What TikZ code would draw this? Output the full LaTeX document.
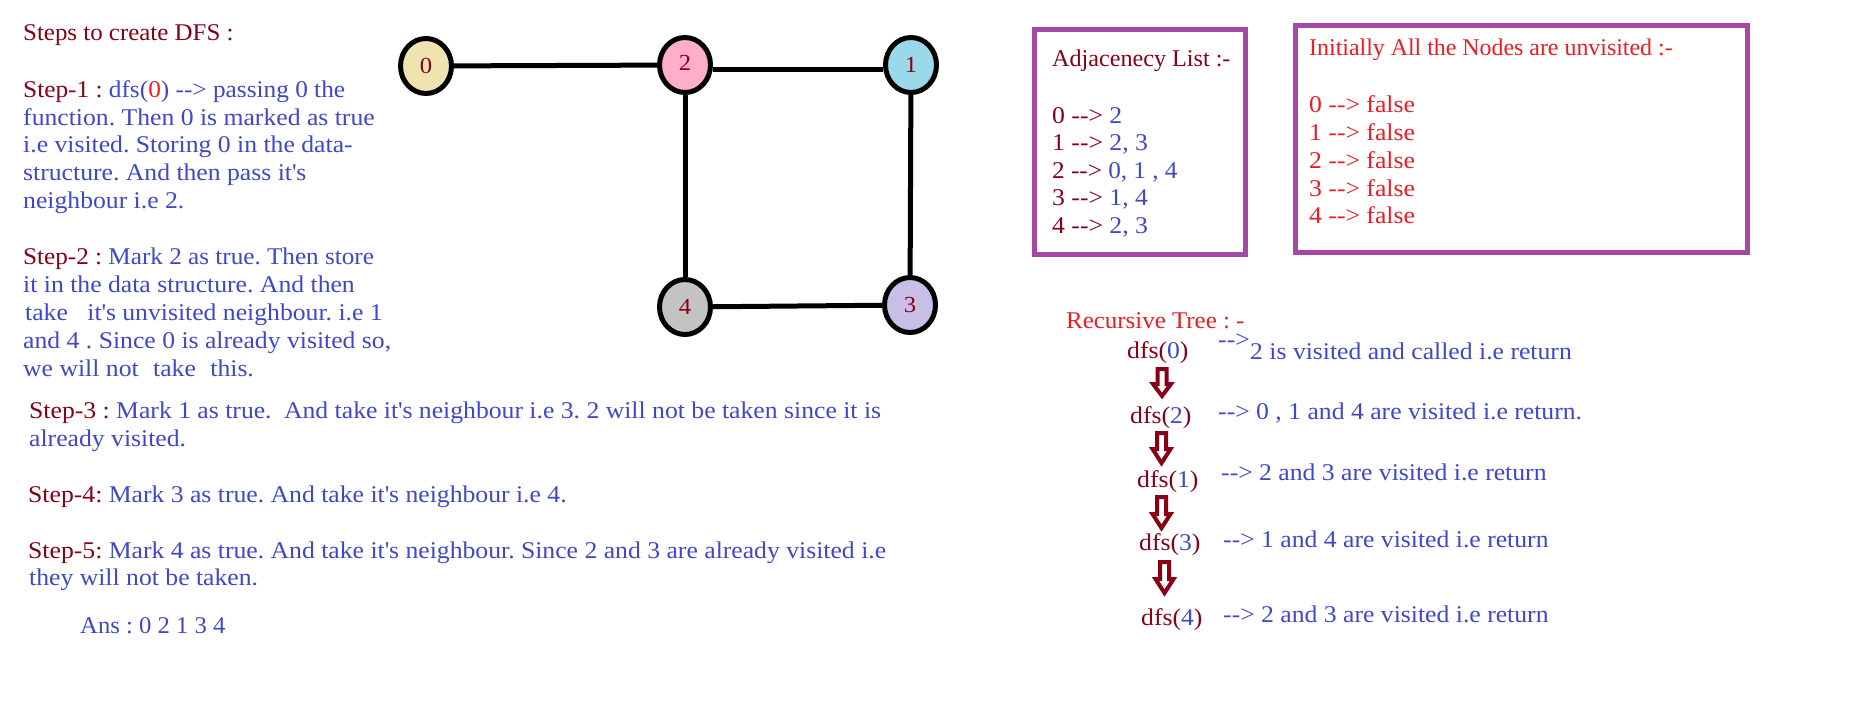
\documentclass[tikz,border=0pt]{standalone}
\usepackage{fontspec}
\usepackage{graphicx}
\setmainfont{Liberation Serif}[FakeStretch=1.07]
\usetikzlibrary{shapes.geometric}
\definecolor{dred}{HTML}{880015}
\definecolor{blu}{HTML}{3F48CC}
\definecolor{rd}{HTML}{ED1C24}
\definecolor{purp}{HTML}{A349A4}
\definecolor{fzero}{HTML}{EFE4B0}
\definecolor{fone}{HTML}{99D9EA}
\definecolor{ftwo}{HTML}{FFAEC9}
\definecolor{fthree}{HTML}{C8BFE7}
\definecolor{ffour}{HTML}{C3C3C3}
\newcommand\dr[1]{\textcolor{dred}{#1}}
\newcommand\ap{\textquotesingle}
\newcommand\arr{-{}->}
\newcommand\sx[2]{\scalebox{#1}[1]{#2}}
\newcommand\barrow[4]{\draw[barrow] (#1-4.5,#2) -- (#1+4.5,#2) -- (#1+4.5,#3) -- (#1+9,#3) -- (#1,#4) -- (#1-9,#3) -- (#1-4.5,#3) -- cycle;}
\frenchspacing
\begin{document}
\begin{tikzpicture}[x=1pt,y=-1pt,
  txt/.style={anchor=base west, inner sep=0pt, text=blu, font=\fontsize{24}{28}\selectfont},
  gnode/.style={ellipse, draw=black, line width=5pt, minimum width=51pt, minimum height=55pt, inner sep=0pt, text=dred, font=\fontsize{23}{26}\selectfont},
  gline/.style={line width=5pt, draw=black},
  listbox/.style={draw=purp, line width=5pt},
  barrow/.style={draw=dred, line width=4pt, fill=white, line join=miter}]
\useasboundingbox (0,0) rectangle (1870,720);
\fill[white] (0,0) rectangle (1870,720);

% graph
\node[gnode, fill=fzero] (n0) at (426,66) {0};
\node[gnode, fill=ftwo] (n2) at (685,65) {\raisebox{4pt}{2}};
\node[gnode, fill=fone] (n1) at (911,65) {1};
\node[gnode, fill=ffour] (n4) at (685,307) {\raisebox{-3pt}{4}};
\node[gnode, fill=fthree] (n3) at (910,305) {3};
\draw[gline] (n0) -- (n2);
\draw[gline] ([yshift=-4pt]n2.east) -- ([yshift=-4pt]n1.west);
\draw[gline] (n2) -- (n4);
\draw[gline] (n1) -- (n3);
\draw[gline] (n4) -- (n3);

% left text
\node[txt, text=dred] (title) at (23,40) {\sx{0.97}{Steps to create DFS :}};
\node[txt] (s1a) at (23,97) {\sx{0.985}{\dr{Step-1 :} dfs(\textcolor{rd}{0}) \arr{} passing 0 the}};
\node[txt] (s1b) at (23,125) {function. Then 0 is marked as true};
\node[txt] (s1c) at (23,152) {i.e visited. Storing 0 in the data-};
\node[txt] (s1d) at (23,180) {structure. And then pass it\ap s};
\node[txt] (s1e) at (23,208) {neighbour i.e 2.};
\node[txt] (s2a) at (23,264) {\sx{0.98}{\dr{Step-2 :} Mark 2 as true. Then store}};
\node[txt] (s2b) at (23,292) {it in the data structure. And then};
\node[txt] (s2c) at (25,320) {take\hspace{13pt} it\ap s unvisited neighbour. i.e 1};
\node[txt] (s2d) at (23,348) {and 4 . Since 0 is already visited so,};
\node[txt] (s2e) at (23,376) {we will not\hspace{8pt} take\hspace{8pt} this.};
\node[txt] (s3a) at (29,418) {\dr{Step-3 :} Mark 1 as true.\hspace{6pt} And take it\ap s neighbour i.e 3. 2 will not be taken since it is};
\node[txt] (s3b) at (29,446) {already visited.};
\node[txt] (s4) at (28,502) {\dr{Step-4:} Mark 3 as true. And take it\ap s neighbour i.e 4.};
\node[txt] (s5a) at (28,558) {\dr{Step-5:} Mark 4 as true. And take it\ap s neighbour. Since 2 and 3 are already visited i.e};
\node[txt] (s5b) at (29,585) {they will not be taken.};
\node[txt] (ans) at (80,633) {\sx{0.96}{Ans : 0 2 1 3 4}};

% adjacency list
\draw[listbox] (1034.5,29.5) rectangle (1245.5,254.5);
\node[txt, text=dred] (adjh) at (1052,66) {\sx{0.94}{Adjacenecy List :-}};
\node[txt] (a0) at (1052,123) {\dr{0 \arr} 2};
\node[txt] (a1) at (1052,150) {\dr{1 \arr} 2, 3};
\node[txt] (a2) at (1052,178) {\sx{0.98}{\dr{2 \arr} 0, 1 , 4}};
\node[txt] (a3) at (1052,205) {\dr{3 \arr} 1, 4};
\node[txt] (a4) at (1052,233) {\dr{4 \arr} 2, 3};

% visited list
\draw[listbox, line width=4.5pt] (1295.5,25.5) rectangle (1747.5,252.5);
\node[txt, text=rd] (vh) at (1309,55) {\sx{0.93}{Initially All the Nodes are unvisited :-}};
\node[txt, text=rd] (v0) at (1309,112) {0 \arr{} false};
\node[txt, text=rd] (v1) at (1309,140) {1 \arr{} false};
\node[txt, text=rd] (v2) at (1309,168) {2 \arr{} false};
\node[txt, text=rd] (v3) at (1309,196) {3 \arr{} false};
\node[txt, text=rd] (v4) at (1309,223) {4 \arr{} false};

% recursive tree
\node[txt, text=rd] (rh) at (1066,328) {\sx{0.97}{Recursive Tree : -}};
\node[txt] (r0) at (1127,358) {\dr{dfs(}0\dr{)}};
\node[txt] (r0a) at (1218,347) {\arr};
\node[txt] (r0t) at (1250,359) {2 is visited and called i.e return};
\node[txt] (r2) at (1130,423) {\dr{dfs(}2\dr{)}};
\node[txt] (r2t) at (1218,419) {\arr{} 0 , 1 and 4 are visited i.e return.};
\node[txt] (r1) at (1137,487) {\dr{dfs(}1\dr{)}};
\node[txt] (r1t) at (1221,480) {\arr{} 2 and 3 are visited i.e return};
\node[txt] (r3) at (1139,550) {\dr{dfs(}3\dr{)}};
\node[txt] (r3t) at (1223,547) {\arr{} 1 and 4 are visited i.e return};
\node[txt] (r4) at (1141,625) {\dr{dfs(}4\dr{)}};
\node[txt] (r4t) at (1223,622) {\arr{} 2 and 3 are visited i.e return};
\barrow{1162}{369}{384}{396}
\barrow{1161.5}{433}{449}{463}
\barrow{1161.5}{497}{514}{528}
\barrow{1164.5}{562}{579}{593}
\end{tikzpicture}
\end{document}
